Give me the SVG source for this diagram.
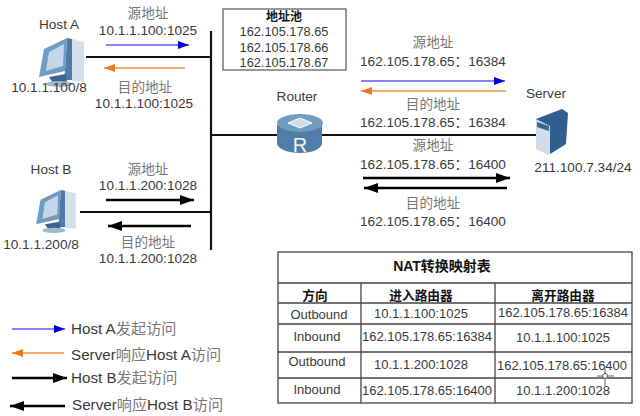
<svg xmlns="http://www.w3.org/2000/svg" width="640" height="416" viewBox="0 0 640 416">
<style>
text{font-family:"Liberation Sans","Noto Sans CJK SC",sans-serif;font-size:13.6px;fill:#3a3a3a;text-anchor:middle}
.cjk{fill:#777;font-size:13.6px}
.b{font-weight:bold;fill:#111}
.l{text-anchor:start;font-size:15.2px;fill:#3a3a3a}
.net{stroke:#111;stroke-width:2.2;fill:none}
.tb{stroke:#444;stroke-width:1.3;fill:none}
.bl{stroke:#5a5aff;stroke-width:1.6;fill:none}
.or{stroke:#f09040;stroke-width:1.4;fill:none}
.bk{stroke:#000;stroke-width:2.4;fill:none}
.p{font-size:12.8px}
.t{font-size:13px}
</style>
<defs>
<marker id="mb" markerUnits="userSpaceOnUse" markerWidth="12" markerHeight="8" refX="11" refY="4" orient="auto"><path d="M0 0L11 4L0 8Z" fill="#0000e0"/></marker>
<marker id="mo" markerUnits="userSpaceOnUse" markerWidth="12" markerHeight="8" refX="11" refY="4" orient="auto"><path d="M0 0L11 4L0 8Z" fill="#f07820"/></marker>
<marker id="mk" markerUnits="userSpaceOnUse" markerWidth="15" markerHeight="10" refX="14" refY="5" orient="auto"><path d="M0 0L14 5L0 10Z" fill="#000"/></marker>
<g id="pc">
<path d="M4 3L27 -8L25 25L-1 31Z" fill="#6f9cc4"/>
<path d="M9 6L24 -2L23 20L6 25Z" fill="#c3d7e8"/>
<path d="M27 -8L32 -7L32 34L24 34L25 25Z" fill="#4f7aa6"/>
<path d="M32 -7L44 -4L44 36L32 35Z" fill="#d5dfea"/>
<path d="M9 31L26 28L27 38L13 37Z" fill="#3d6490"/>
<ellipse cx="19" cy="38" rx="13" ry="3" fill="#9db8d0"/>
</g>
</defs>
<g id="connectors">
<path class="net" d="M211 31V250M86 57H211M80 212H211M211 135H279M322 135H538"/>
<path class="bl" d="M106 45H189" marker-end="url(#mb)"/>
<path class="or" d="M185 68H104" marker-end="url(#mo)"/>
<path class="bk" d="M106 200H194" marker-end="url(#mk)"/>
<path class="bk" d="M191 226H108" marker-end="url(#mk)"/>
<path class="bl" d="M361 81H505" marker-end="url(#mb)"/>
<path class="or" d="M506 91H361" marker-end="url(#mo)"/>
<path class="bk" d="M363 178H510" marker-end="url(#mk)"/>
<path class="bk" d="M507 188H364" marker-end="url(#mk)"/>
</g>
<g id="host-a"><use href="#pc" x="40" y="46"/><text x="59" y="29">Host A</text><text x="49" y="92">10.1.1.100/8</text></g>
<g id="host-b"><use href="#pc" x="37" y="197" transform="translate(37 197) scale(.88) translate(-37 -197)"/><text x="51" y="174">Host B</text><text x="41" y="249">10.1.1.200/8</text></g>
<g id="router">
<text x="297" y="101">Router</text>
<path d="M277 125V143C277 149 288 153 300 153C312 153 322 149 322 143V125Z" fill="#4f7fa8"/>
<ellipse cx="300" cy="123" rx="23" ry="9" fill="#6f9cc0"/>
<path d="M288 123L300 118L312 123L300 128Z" fill="#c8dcec" stroke="#fff"/>
<text x="300" y="152" style="font-size:20px;fill:#eef4f8">R</text>
</g>
<g id="server">
<text x="546" y="98">Server</text>
<path d="M536 119L565 110V145L548 155L536 149Z" fill="#cfdeea"/>
<path d="M536 119L562 109L568 113L566 144L550 154L550 126Z" fill="#2f5f90"/>
<path d="M537 122L549 126V131L537 127Z" fill="#39668f"/>
<text x="583" y="172">211.100.7.34/24</text>
</g>
<g id="pool">
<rect x="223" y="9" width="123" height="61" fill="#fff" stroke="#555" stroke-width="1.2"/>
<text class="b" x="284" y="21" style="font-size:12px">地址池</text>
<text class="p" x="284" y="36">162.105.178.65</text>
<text class="p" x="284" y="52">162.105.178.66</text>
<text class="p" x="284" y="67">162.105.178.67</text>
</g>
<g id="labels">
<text class="cjk" x="148" y="18">源地址</text><text x="148" y="35">10.1.1.100:1025</text>
<text class="cjk" x="145" y="92">目的地址</text><text x="144" y="108">10.1.1.100:1025</text>
<text class="cjk" x="148" y="174">源地址</text><text x="148" y="190">10.1.1.200:1028</text>
<text class="cjk" x="148" y="247">目的地址</text><text x="148" y="263">10.1.1.200:1028</text>
<text class="cjk" x="433" y="47">源地址</text><text x="433" y="66">162.105.178.65：16384</text>
<text class="cjk" x="433" y="109">目的地址</text><text x="433" y="127">162.105.178.65：16384</text>
<text class="cjk" x="433" y="150">源地址</text><text x="433" y="169">162.105.178.65：16400</text>
<text class="cjk" x="433" y="208">目的地址</text><text x="433" y="226">162.105.178.65：16400</text>
</g>
<g id="legend">
<path class="bl" d="M12 329H65" marker-end="url(#mb)"/>
<path class="or" d="M64 353H12" marker-end="url(#mo)"/>
<path class="bk" d="M12 378H67" marker-end="url(#mk)"/>
<path class="bk" d="M65 406H10" marker-end="url(#mk)"/>
<text class="l" x="71" y="334">Host A<tspan fill="#777">发起访问</tspan></text>
<text class="l" x="71" y="360">Server<tspan fill="#777">响应</tspan>Host A<tspan fill="#777">访问</tspan></text>
<text class="l" x="71" y="383">Host B<tspan fill="#777">发起访问</tspan></text>
<text class="l" x="72" y="410">Server<tspan fill="#777">响应</tspan>Host B<tspan fill="#777">访问</tspan></text>
</g>
<g id="nat-table">
<rect class="tb" x="278" y="252" width="354" height="151"/>
<path class="tb" d="M278 283H632M278 303H632M278 324H632M278 352H632M278 378H632M361 283V403M495 283V403"/>
<text class="b" x="442" y="271" style="font-size:14px">NAT转换映射表</text>
<text class="b" x="315" y="300" style="font-size:12.7px">方向</text>
<text class="b" x="421" y="300" style="font-size:12.7px">进入路由器</text>
<text class="b" x="563" y="300" style="font-size:12.7px">离开路由器</text>
<text class="t" x="319" y="319">Outbound</text><text class="t" x="421" y="318">10.1.1.100:1025</text><text class="t" x="563" y="317">162.105.178.65:16384</text>
<text class="t" x="317" y="341">Inbound</text><text class="t" x="427" y="341">162.105.178.65:16384</text><text class="t" x="563" y="342">10.1.1.100:1025</text>
<text class="t" x="317" y="366">Outbound</text><text class="t" x="421" y="369">10.1.1.200:1028</text><text class="t" x="562" y="370">162.105.178.65:16400</text>
<text class="t" x="317" y="394">Inbound</text><text class="t" x="427" y="395">162.105.178.65:16400</text><text class="t" x="563" y="395">10.1.1.200:1028</text>
<path d="M597 376H614M605 368V386" stroke="#666" stroke-width="1" fill="none"/>
<circle cx="605" cy="376" r="2.5" fill="#fff" stroke="#555"/>
</g>
</svg>
